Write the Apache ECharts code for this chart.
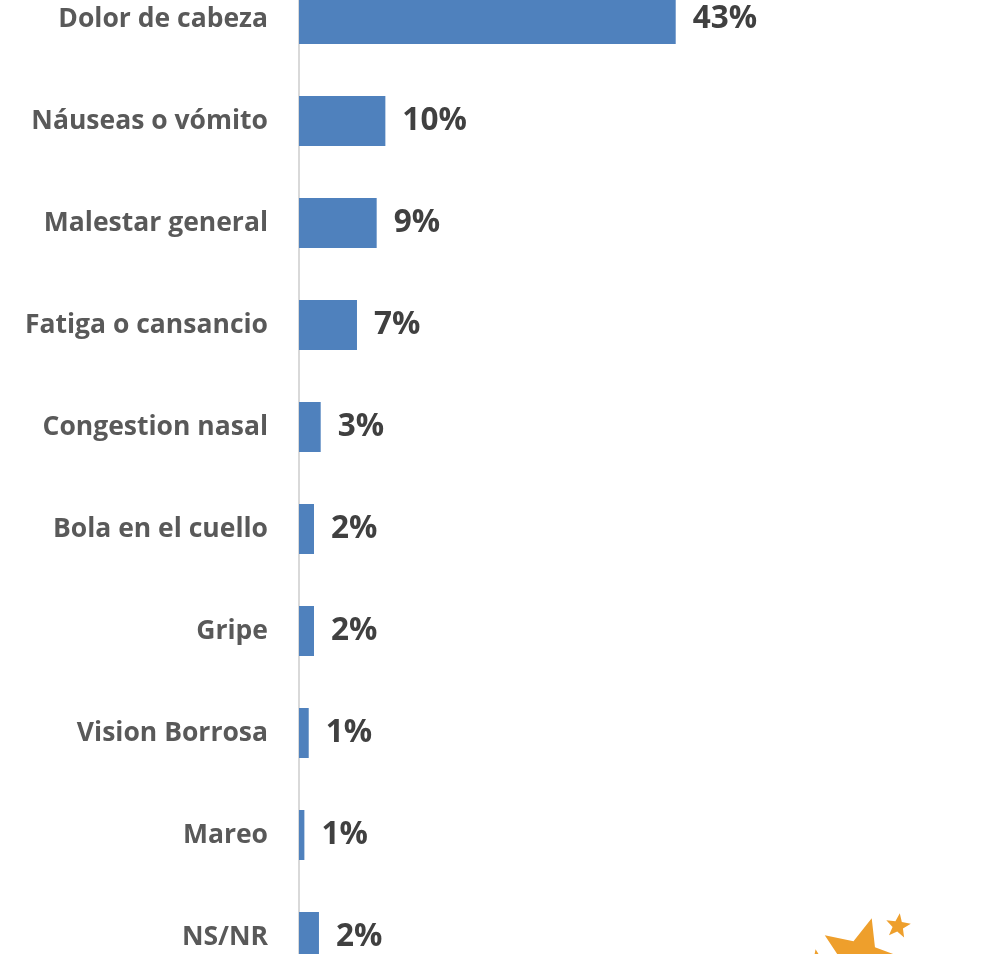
<!DOCTYPE html>
<html>
<head>
<meta charset="utf-8">
<script src="https://cdn.jsdelivr.net/npm/echarts@6/dist/echarts.min.js"></script>
<style>
html,body{margin:0;padding:0;background:#fff;overflow:hidden;width:986px;height:954px;}
#chart{width:986px;height:1020px;margin-top:-32px;}
</style>
</head>
<body>
<div id="chart"></div>
<script>
var categories = ["Dolor de cabeza","Náuseas o vómito","Malestar general","Fatiga o cansancio","Congestion nasal","Bola en el cuello","Gripe","Vision Borrosa","Mareo","NS/NR"];
var values = [43.4, 9.95, 8.95, 6.68, 2.5, 1.73, 1.73, 1.12, 0.62, 2.3];
var valueLabels = ["43%","10%","9%","7%","3%","2%","2%","1%","1%","2%"];

function starPoints(cx, cy, R, r, rotDeg){
  var pts = [];
  for (var i = 0; i < 10; i++){
    var ang = (-90 + rotDeg + i*36) * Math.PI/180;
    var rad = (i % 2 === 0) ? R : r;
    pts.push([cx + rad*Math.cos(ang), cy + rad*Math.sin(ang)]);
  }
  return pts;
}

var chart = echarts.init(document.getElementById('chart'), null, {renderer:'canvas'});
var option = {
  backgroundColor: '#ffffff',
  animation: false,
  grid: { left: 299, top: 0, width: 434, height: 1020, containLabel: false },
  xAxis: {
    type: 'value', min: 0, max: 50, show: false
  },
  yAxis: {
    type: 'category',
    data: categories,
    inverse: true,
    axisTick: { show: false },
    axisLine: { show: true, lineStyle: { color: '#D9D9D9', width: 2 } },
    axisLabel: {
      margin: 31,
      color: '#595959',
      fontFamily: 'Open Sans',
      fontWeight: 'bold',
      fontSize: 26.5
    }
  },
  series: [{
    type: 'bar',
    data: values,
    barWidth: 50,
    itemStyle: { color: '#4F81BD' },
    label: {
      show: true,
      position: 'right',
      distance: 17,
      color: '#404040',
      fontFamily: 'Open Sans',
      fontWeight: 'bold',
      fontSize: 31.5,
      formatter: function(p){ return valueLabels[p.dataIndex]; }
    }
  }],
  graphic: [
    { type: 'polygon', shape: { points: starPoints(860, 991, 42.5, 19, 16) }, style: { fill: '#EE9F2C' } },
    { type: 'polygon', shape: { points: starPoints(898, 958, 13, 5.5, 8) }, style: { fill: '#EE9F2C' } },
    { type: 'polygon', shape: { points: starPoints(818, 995, 14, 6, -10) }, style: { fill: '#EE9F2C' } }
  ]
};
chart.setOption(option);
</script>
</body>
</html>
